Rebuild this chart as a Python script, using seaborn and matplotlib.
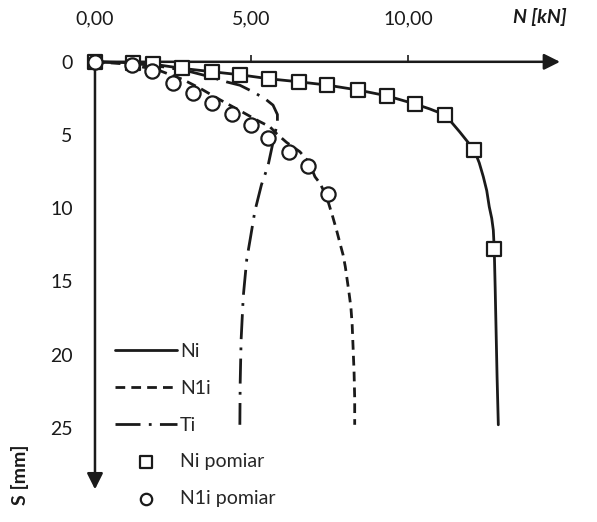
import numpy as np
import pandas as pd
import matplotlib.pyplot as plt
import seaborn as sns

# Curves: N [kN] vs S [mm]
ni_n = [0, 1.22, 1.86, 2.79, 3.75, 4.65, 5.56, 6.53, 7.42, 8.41, 9.32, 10.24, 10.7, 11.2,
        11.66, 12.12, 12.28, 12.41, 12.52, 12.6, 12.68, 12.73, 12.76, 12.79, 12.82,
        12.85, 12.89]
ni_s = [0, 0.07, 0.16, 0.45, 0.68, 0.89, 1.16, 1.37, 1.59, 1.93, 2.32, 2.89, 3.22, 3.64,
        4.8, 6.03, 6.9, 7.85, 8.8, 9.9, 10.7, 11.5, 12.8, 15.5, 18.5, 21.5, 24.8]

n1i_n = [0, 1.0, 2.0, 2.8, 3.35, 4.0, 4.6, 5.17, 5.59, 5.8, 6.12, 6.55, 6.85, 7.03,
         7.19, 7.4, 7.6, 7.72, 7.83, 7.93, 8.0, 8.06, 8.12, 8.18, 8.22, 8.25, 8.28,
         8.3, 8.3]
n1i_s = [0, 0.15, 0.55, 1.2, 1.8, 2.6, 3.3, 3.98, 4.44, 4.9, 5.5, 6.15, 6.9, 7.85,
         8.3, 9.2, 10.6, 11.5, 12.4, 13.2, 14.0, 14.9, 15.8, 16.8, 18.0, 19.6, 21.2,
         23.0, 24.8]

ti_n = [0, 1.2, 2.2, 3.0, 3.67, 4.2, 4.63, 5.05, 5.45, 5.69, 5.83, 5.83, 5.75, 5.65,
        5.55, 5.45, 5.32, 5.11, 4.97, 4.85, 4.74, 4.67, 4.64, 4.63]
ti_s = [0, 0.1, 0.35, 0.65, 1.02, 1.37, 1.6, 2.05, 2.55, 2.96, 3.6, 4.2, 4.9, 5.9,
        6.9, 7.6, 8.4, 10.2, 12.0, 13.5, 16.0, 19.0, 22.0, 24.8]

# measured points
ni_meas_n = [0, 1.22, 1.86, 2.79, 3.75, 4.65, 5.56, 6.53, 7.42, 8.41, 9.32, 10.24, 11.2, 12.12, 12.76]
ni_meas_s = [0, 0.07, 0.16, 0.45, 0.68, 0.89, 1.16, 1.37, 1.59, 1.93, 2.32, 2.89, 3.64, 6.03, 12.8]

n1i_meas_n = [0, 1.19, 1.81, 2.48, 3.12, 3.73, 4.37, 4.98, 5.54, 6.2, 6.8, 7.45]
n1i_meas_s = [0, 0.2, 0.66, 1.43, 2.11, 2.84, 3.57, 4.32, 5.23, 6.15, 7.15, 9.05]

x_ticks = [0, 5, 10]
x_tick_labels = ['0,00', '5,00', '10,00']
y_ticks = [0, 5, 10, 15, 20, 25]

sns.set_theme(style='white')
plt.rcParams['font.family'] = ['Lato', 'DejaVu Sans']

fig = plt.figure(figsize=(5.97, 5.22), dpi=100)
ax = fig.add_axes([0.1005, 0.0421, 0.871, 0.881])

ink = '#1a1a1a'

sns.lineplot(x=ni_n, y=ni_s, sort=False, estimator=None, color=ink, lw=2.0,
             label='Ni', ax=ax)
sns.lineplot(x=n1i_n, y=n1i_s, sort=False, estimator=None, color=ink, lw=2.0,
             linestyle=(0, (3.5, 2.2)), label='N1i', ax=ax)
sns.lineplot(x=ti_n, y=ti_s, sort=False, estimator=None, color=ink, lw=2.0,
             linestyle=(0, (9, 3, 1, 3)), label='Ti', ax=ax)
sns.scatterplot(x=ni_meas_n, y=ni_meas_s, marker='s', s=110, facecolor='white',
                edgecolor=ink, linewidth=1.6, label='Ni pomiar', ax=ax, zorder=5)
sns.scatterplot(x=n1i_meas_n, y=n1i_meas_s, marker='o', s=105, facecolor='white',
                edgecolor=ink, linewidth=1.6, label='N1i pomiar', ax=ax, zorder=5)

ax.set_xlim(-1.118, 15.5)
ax.set_ylim(29.94, -1.48)

# axes through the origin, drawn as arrows
for sp in ax.spines.values():
    sp.set_visible(False)
ax.spines['top'].set_position(('data', 0))
ax.spines['left'].set_position(('data', 0))
ax.annotate('', xy=(14.95, 0), xytext=(0, 0),
            arrowprops=dict(arrowstyle='-|>', color=ink, lw=1.8, mutation_scale=24))
ax.annotate('', xy=(0, 29.4), xytext=(0, 0),
            arrowprops=dict(arrowstyle='-|>', color=ink, lw=1.8, mutation_scale=24))

ax.xaxis.set_ticks_position('top')
ax.xaxis.set_label_position('top')
ax.set_xticks(x_ticks)
ax.set_xticklabels(x_tick_labels)
ax.set_yticks(y_ticks)
ax.tick_params(axis='x', direction='out', length=5, width=1.2, pad=20,
               labelsize=14, colors=ink)
ax.tick_params(axis='y', direction='out', length=6, width=1.2, pad=10,
               labelsize=14, colors=ink)
ax.set_xlabel('')
ax.set_ylabel('')

fig.text(540 / 597, 1 - 17 / 522, 'N [kN]', fontsize=14, fontweight='bold',
         fontstyle='italic', ha='center', va='center', color=ink)
fig.text(20 / 597, 1 - 475 / 522, 'S [mm]', fontsize=14, fontweight='bold',
         rotation=90, ha='center', va='center', color=ink)

ax.legend(loc='upper left', bbox_to_anchor=(115 / 597, 1 - 343 / 522),
          bbox_transform=fig.transFigure, frameon=False, fontsize=14,
          handlelength=3.2, handletextpad=0.15, labelspacing=1.02,
          borderaxespad=0, borderpad=0, markerscale=0.8)

fig.savefig('out.png', dpi=100)
